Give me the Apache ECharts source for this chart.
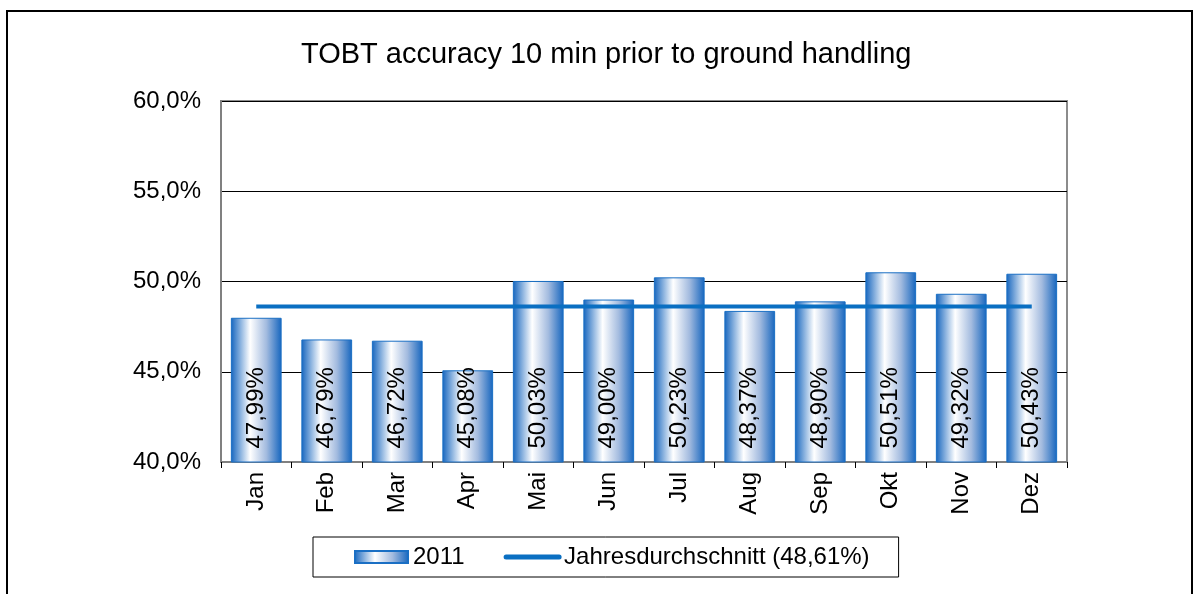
<!DOCTYPE html>
<html><head><meta charset="utf-8">
<script src="https://cdn.jsdelivr.net/npm/echarts@6/dist/echarts.min.js"></script>
<style>html,body{margin:0;padding:0;background:#fff}#c{width:1194px;height:594px}</style>
</head><body><div id="c"></div>
<script>
const categories = ['Jan','Feb','Mar','Apr','Mai','Jun','Jul','Aug','Sep','Okt','Nov','Dez'];
const values2011 = [47.99,46.79,46.72,45.08,50.03,49.00,50.23,48.37,48.90,50.51,49.32,50.43];
const averageValue = 48.61;
const averageLine = categories.map(() => averageValue);
const seriesNames = ['2011','Jahresdurchschnitt (48,61%)'];
const titleText = 'TOBT accuracy 10 min prior to ground handling';

const fmt = v => v.toFixed(2).replace('.', ',') + '%';
const FONT = 'Liberation Sans, Arial, sans-serif';
const barGrad = new echarts.graphic.LinearGradient(0,0,1,0,[
  {offset:0,color:'#1565be'},
  {offset:0.38,color:'#ffffff'},
  {offset:0.7,color:'#a3bbdf'},
  {offset:1,color:'#1565be'}
]);
const chart = echarts.init(document.getElementById('c'));
chart.setOption({
  animation:false,
  backgroundColor:'#fff',
  textStyle:{fontFamily:FONT},
  title:{text:titleText,left:296,top:35,textStyle:{fontFamily:FONT,fontSize:29,fontWeight:'normal',color:'#000'}},
  graphic:[{type:'rect',shape:{x:7,y:11,width:1185,height:600},style:{fill:'none',stroke:'#000',lineWidth:2},silent:true}],
  legend:{
    left:313,top:537,
    padding:[8,29,8,41],
    itemGap:39,itemWidth:53,itemHeight:12,
    borderColor:'#000',borderWidth:1,
    textStyle:{fontFamily:FONT,fontSize:24,color:'#000'},
    data:[{name:seriesNames[0],icon:'rect'},
          {name:seriesNames[1],itemStyle:{opacity:0},lineStyle:{width:5,cap:'round'}}]
  },
  grid:{left:221,right:127,top:101,bottom:132,show:true,borderColor:'#8c8c8c',borderWidth:2,backgroundColor:'transparent'},
  xAxis:{
    type:'category',data:categories,
    axisLine:{lineStyle:{color:'#808080',width:2}},
    axisTick:{show:true,length:6,lineStyle:{color:'#000'}},
    axisLabel:{rotate:90,fontSize:24,color:'#000',fontFamily:FONT,margin:10}
  },
  yAxis:{
    type:'value',min:40,max:60,interval:5,
    axisLine:{show:true,lineStyle:{color:'#808080',width:2}},
    axisTick:{show:false},
    splitLine:{lineStyle:{color:'#000',width:1}},
    axisLabel:{fontSize:24,color:'#000',fontFamily:FONT,margin:20,formatter:v=>v.toFixed(1).replace('.',',')+'%'}
  },
  series:[
    {name:seriesNames[0],type:'bar',data:values2011,barWidth:'72%',
     itemStyle:{color:barGrad,borderColor:'#1a6fc4',borderWidth:1},
     label:{show:true,position:'insideBottom',rotate:90,align:'left',verticalAlign:'middle',distance:14,
       fontSize:24,color:'#000',fontFamily:FONT,formatter:p=>fmt(p.value)}},
    {name:seriesNames[1],type:'line',data:averageLine,symbol:'none',showSymbol:false,
     lineStyle:{color:'#0a6fc2',width:4},itemStyle:{color:'#0a6fc2'},z:5}
  ]
});
</script></body></html>
